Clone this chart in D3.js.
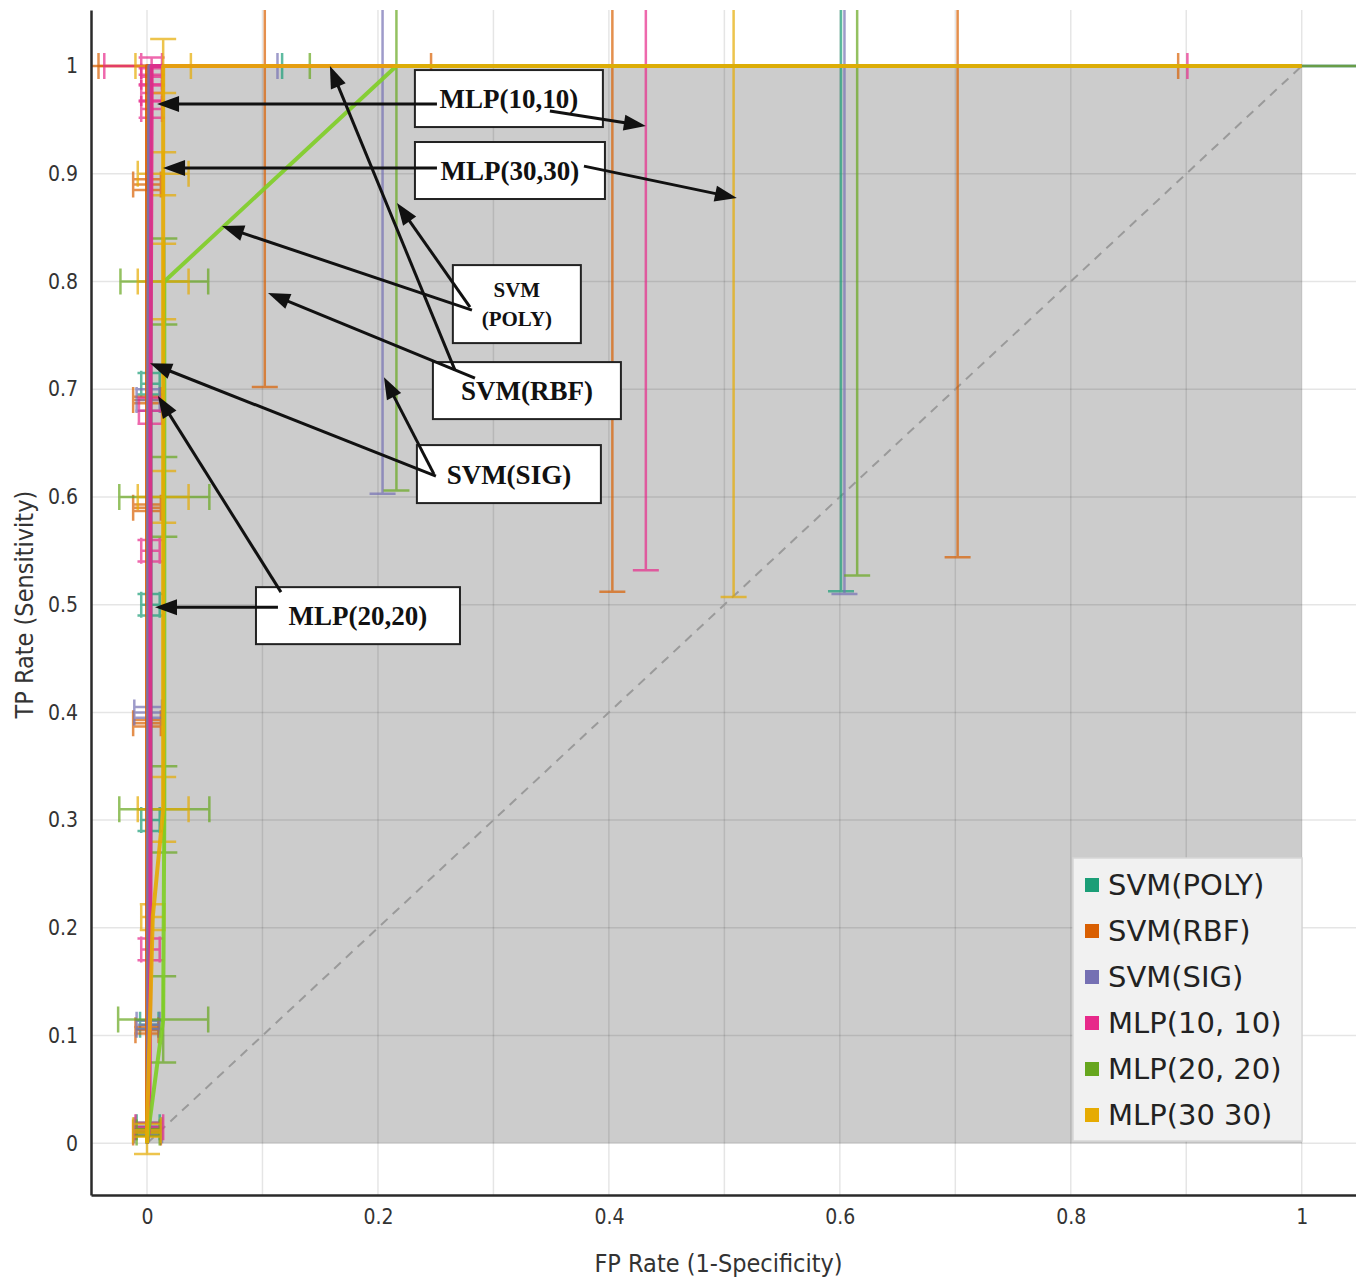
<!DOCTYPE html>
<html>
<head>
<meta charset="utf-8">
<script src="https://cdn.jsdelivr.net/npm/d3@7"></script>
<style>
  body { margin: 0; background: #fff; }
</style>
</head>
<body>
<div id="chart"></div>
<script>
// ---- data ----
const seriesNames = ["SVM(POLY)", "SVM(RBF)", "SVM(SIG)", "MLP(10, 10)", "MLP(20, 20)", "MLP(30 30)"];

// each point: [fpRate, tpRate, fpError, tpError]
const svmPolyPts = [
  [0, 0, 0, 0], [0.001, 0.015, 0.01, 0.004], [0.002, 0.11, 0.008, 0.004],
  [0.003, 0.3, 0.008, 0.01], [0.003, 0.5, 0.008, 0.01], [0.003, 0.705, 0.008, 0.01],
  [0.003, 1, 0, 0], [0.601, 1, 0.484, 0.4875], [1, 1, 0, 0]
];
const svmRbfPts = [
  [0, 0, 0, 0], [0, 0.01, 0.012, 0.003], [0, 0.105, 0.01, 0.003],
  [0, 0.39, 0.012, 0.003], [0, 0.59, 0.012, 0.003], [0, 0.69, 0.012, 0.003],
  [0, 0.89, 0.012, 0.005], [0, 1, 0, 0], [0.102, 1, 0.144, 0.298],
  [0.403, 1, 0.49, 0.488], [0.702, 1, 0, 0.456], [1, 1, 0, 0]
];
const svmSigPts = [
  [0, 0, 0, 0], [0.001, 0.012, 0.012, 0.004], [0.001, 0.11, 0.01, 0.004],
  [0.001, 0.4, 0.012, 0.005], [0.001, 0.69, 0.01, 0.01], [0.002, 1, 0, 0],
  [0.204, 1, 0, 0.397], [0.604, 1, 0.491, 0.49], [1, 1, 0, 0]
];
const mlp10Pts = [
  [0, 0, 0, 0], [0.002, 0.015, 0.012, 0.004], [0.003, 0.18, 0.008, 0.01],
  [0.003, 0.55, 0.008, 0.01], [0.003, 0.68, 0.01, 0.012], [0.004, 0.96, 0.009, 0.008],
  [0.004, 0.975, 0.009, 0.008], [0.004, 0.99, 0.009, 0.008], [0.004, 1, 0.009, 0.008],
  [0.432, 1, 0.469, 0.468], [1, 1, 0, 0]
];
const mlp20Pts = [
  [0, 0, 0, 0], [0.001, 0.01, 0.01, 0.003], [0.014, 0.115, 0.039, 0.04],
  [0.015, 0.31, 0.039, 0.04], [0.015, 0.6, 0.039, 0.037], [0.015, 0.8, 0.038, 0.04],
  [0.216, 1, 0, 0.394], [0.615, 1, 0.474, 0.473], [1, 1, 0, 0]
];
const mlp30Pts = [
  [0, 0, 0, 0.01], [0, 0.012, 0.012, 0.006], [0.005, 0.21, 0.01, 0.012],
  [0.014, 0.31, 0.022, 0.03], [0.014, 0.6, 0.022, 0.024], [0.014, 0.8, 0.022, 0.035],
  [0.014, 0.9, 0.022, 0.02], [0.014, 1, 0.024, 0.025], [0.508, 1, 0, 0.493], [1, 1, 0, 0]
];
const seriesPts = [svmPolyPts, svmRbfPts, svmSigPts, mlp10Pts, mlp20Pts, mlp30Pts];

const xTickVals = [0, 0.2, 0.4, 0.6, 0.8, 1];
const yTickVals = [0, 0.1, 0.2, 0.3, 0.4, 0.5, 0.6, 0.7, 0.8, 0.9, 1];
const gridVals = [0, 0.1, 0.2, 0.3, 0.4, 0.5, 0.6, 0.7, 0.8, 0.9, 1];

// annotation callouts, centre in data units
const noteLabels = [
  { lines: ["MLP(10,10)"], fp: 0.3134, tp: 0.9698, w: 188, h: 57, size: 27 },
  { lines: ["MLP(30,30)"], fp: 0.3143, tp: 0.9030, w: 190, h: 57, size: 27 },
  { lines: ["SVM", "(POLY)"], fp: 0.3203, tp: 0.7790, w: 128, h: 78, size: 21 },
  { lines: ["SVM(RBF)"], fp: 0.3290, tp: 0.6987, w: 188, h: 57, size: 27 },
  { lines: ["SVM(SIG)"], fp: 0.3134, tp: 0.6212, w: 184, h: 58, size: 27 },
  { lines: ["MLP(20,20)"], fp: 0.1827, tp: 0.4898, w: 204, h: 57, size: 27 }
];
// arrows: [fromFp, fromTp, tipFp, tipTp]
const noteArrows = [
  [0.2511, 0.9647, 0.0087, 0.9647],
  [0.3489, 0.9582, 0.4320, 0.9443],
  [0.2511, 0.9053, 0.0139, 0.9053],
  [0.3784, 0.9071, 0.5108, 0.8774],
  [0.2814, 0.7734, 0.0649, 0.8514],
  [0.2797, 0.7762, 0.2165, 0.8728],
  [0.2667, 0.7177, 0.1584, 1.0],
  [0.2840, 0.7103, 0.1048, 0.7892],
  [0.2502, 0.6193, 0.0026, 0.7242],
  [0.2485, 0.6212, 0.2052, 0.7112],
  [0.1160, 0.5116, 0.0095, 0.6936],
  [0.1134, 0.4977, 0.0069, 0.4977]
];

// ---- layout ----
const width = 1356, height = 1280;
const plot = { left: 91, right: 1356, top: 10, bottom: 1195 };
const colors = d3.schemeDark2.slice(0, 6);
const curveColors = colors.map((c, i) => (i === 4 ? d3.color(c).brighter(0.6).formatHex() : c));

const x = d3.scaleLinear().domain([-0.0485, 1.047]).range([plot.left, plot.right]);
const y = d3.scaleLinear().domain([-0.048, 1.052]).range([plot.bottom, plot.top]);

const svg = d3.select("#chart").append("svg")
  .attr("width", width)
  .attr("height", height);

svg.append("defs").append("clipPath").attr("id", "plot-clip")
  .append("rect")
  .attr("x", plot.left).attr("y", plot.top)
  .attr("width", plot.right - plot.left).attr("height", plot.bottom - plot.top);

const g = svg.append("g").attr("clip-path", "url(#plot-clip)");

// convex hull of all curves (grey area)
const hullPts = seriesPts.flatMap((pts) => pts.map((p) => [p[0], p[1]])).concat([[1, 0]]);
const hull = d3.polygonHull(hullPts);
g.append("path")
  .attr("d", d3.line().x((p) => x(p[0])).y((p) => y(p[1]))(hull) + "Z")
  .attr("fill", "#cccccc");

// grid
g.selectAll(".vgrid").data(gridVals).enter().append("line")
  .attr("x1", (d) => x(d)).attr("x2", (d) => x(d))
  .attr("y1", plot.top).attr("y2", plot.bottom)
  .attr("stroke", "#000").attr("stroke-opacity", 0.1).attr("stroke-width", 1.5);
g.selectAll(".hgrid").data(gridVals).enter().append("line")
  .attr("y1", (d) => y(d)).attr("y2", (d) => y(d))
  .attr("x1", plot.left).attr("x2", plot.right)
  .attr("stroke", "#000").attr("stroke-opacity", 0.1).attr("stroke-width", 1.5);

// chance diagonal
g.append("line")
  .attr("x1", x(0)).attr("y1", y(0)).attr("x2", x(1)).attr("y2", y(1))
  .attr("stroke", "#9a9a9a").attr("stroke-width", 2).attr("stroke-dasharray", "9,7");

// error bars
const cap = 13;
function errPath(p) {
  const cx = x(p[0]), cy = y(p[1]);
  let d = "";
  if (p[3] > 0) {
    const y1 = y(p[1] + p[3]), y2 = y(p[1] - p[3]);
    d += `M${cx},${y1}V${y2}M${cx - cap},${y1}H${cx + cap}M${cx - cap},${y2}H${cx + cap}`;
  }
  if (p[2] > 0) {
    const x1 = x(p[0] - p[2]), x2 = x(p[0] + p[2]);
    d += `M${x1},${cy}H${x2}M${x1},${cy - cap}V${cy + cap}M${x2},${cy - cap}V${cy + cap}`;
  }
  return d;
}

seriesPts.forEach((pts, i) => {
  g.append("g")
    .selectAll("path")
    .data(pts.filter((p) => p[2] > 0 || p[3] > 0))
    .enter()
    .append("path")
    .attr("d", errPath)
    .attr("fill", "none")
    .attr("stroke", colors[i])
    .attr("stroke-opacity", 0.7)
    .attr("stroke-width", 2.5);
});

// ROC curves
const line = d3.line().x((p) => x(p[0])).y((p) => y(p[1]));
seriesPts.forEach((pts, i) => {
  g.append("path")
    .attr("d", line(pts))
    .attr("fill", "none")
    .attr("stroke", curveColors[i])
    .attr("stroke-opacity", 0.9)
    .attr("stroke-width", 4)
    .attr("stroke-linejoin", "round");
});

// axes
const tickFont = "'Liberation Sans Narrow', 'DejaVu Sans Condensed', sans-serif";
const xAxisG = svg.append("g")
  .attr("transform", `translate(0,${plot.bottom})`)
  .call(d3.axisBottom(x).tickValues(xTickVals).tickFormat(d3.format("~g")).tickSize(0).tickPadding(14));
const yAxisG = svg.append("g")
  .attr("transform", `translate(${plot.left},0)`)
  .call(d3.axisLeft(y).tickValues(yTickVals).tickFormat(d3.format("~g")).tickSize(0).tickPadding(13));

[xAxisG, yAxisG].forEach((ax) => {
  ax.select(".domain").attr("stroke", "#2a2a2a").attr("stroke-width", 2.5);
  ax.selectAll("text")
    .attr("font-family", tickFont)
    .attr("font-size", 21)
    .attr("fill", "#333");
});

svg.append("text")
  .attr("x", (plot.left + plot.right) / 2 - 5)
  .attr("y", 1272)
  .attr("text-anchor", "middle")
  .attr("font-family", tickFont)
  .attr("font-size", 25)
  .attr("fill", "#333")
  .text("FP Rate (1-Specificity)");

svg.append("text")
  .attr("transform", `translate(33,${y(0.5)}) rotate(-90)`)
  .attr("text-anchor", "middle")
  .attr("font-family", tickFont)
  .attr("font-size", 25)
  .attr("fill", "#333")
  .text("TP Rate (Sensitivity)");

// legend
const legend = svg.append("g").attr("transform", "translate(1073,858)");
legend.append("rect")
  .attr("width", 229).attr("height", 283)
  .attr("fill", "#f1f1f1").attr("stroke", "#d6d6d6").attr("stroke-width", 1.5);
const items = legend.selectAll(".item").data(seriesNames).enter().append("g")
  .attr("transform", (d, i) => `translate(0,${27 + i * 46})`);
items.append("rect")
  .attr("x", 12).attr("y", -7).attr("width", 14).attr("height", 14)
  .attr("fill", (d, i) => colors[i]);
items.append("text")
  .attr("x", 35).attr("y", 0).attr("dy", "0.36em")
  .attr("font-family", "'DejaVu Sans', sans-serif")
  .attr("font-size", 29)
  .attr("fill", "#222")
  .text((d) => d);

// callout boxes
const notes = svg.append("g");
noteLabels.forEach((n) => {
  const cx = x(n.fp), cy = y(n.tp);
  notes.append("rect")
    .attr("x", cx - n.w / 2).attr("y", cy - n.h / 2)
    .attr("width", n.w).attr("height", n.h)
    .attr("fill", "#fff").attr("stroke", "#222").attr("stroke-width", 2);
  const lh = n.size * 1.35;
  n.lines.forEach((t, k) => {
    notes.append("text")
      .attr("x", cx)
      .attr("y", cy + (k - (n.lines.length - 1) / 2) * lh)
      .attr("dy", "0.35em")
      .attr("text-anchor", "middle")
      .attr("font-family", "'Liberation Serif', 'Times New Roman', serif")
      .attr("font-weight", "bold")
      .attr("font-size", n.size)
      .attr("fill", "#111")
      .text(t);
  });
});

// arrows
const headLen = 22, headHalf = 8;
noteArrows.forEach((a) => {
  const x0 = x(a[0]), y0 = y(a[1]), x1 = x(a[2]), y1 = y(a[3]);
  const len = Math.hypot(x1 - x0, y1 - y0);
  const ux = (x1 - x0) / len, uy = (y1 - y0) / len;
  const bx = x1 - ux * headLen, by = y1 - uy * headLen;
  notes.append("line")
    .attr("x1", x0).attr("y1", y0)
    .attr("x2", bx + ux * 4).attr("y2", by + uy * 4)
    .attr("stroke", "#111").attr("stroke-width", 3);
  notes.append("path")
    .attr("d", `M${x1},${y1}L${bx - uy * headHalf},${by + ux * headHalf}L${bx + uy * headHalf},${by - ux * headHalf}Z`)
    .attr("fill", "#111");
});
</script>
</body>
</html>
